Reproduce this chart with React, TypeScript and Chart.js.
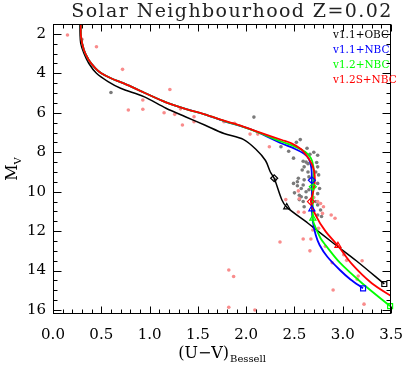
import React, { useEffect, useRef } from "react";
import { Chart, registerables } from "chart.js";
Chart.register(...registerables);

const xTickValues = [0, 0.5, 1.0, 1.5, 2.0, 2.5, 3.0, 3.5];
const yTickValues = [2, 4, 6, 8, 10, 12, 14, 16];

const titleText = "Solar Neighbourhood Z=0.02";
const seriesNames = ["v1.1+OBC", "v1.1+NBC", "v1.2+NBC", "v1.2S+NBC"];
const seriesColors = ["#000000", "#0000ff", "#00ff00", "#ff0000"];

const blackX = [0.277, 0.28, 0.287, 0.32, 0.37, 0.45, 0.57, 0.70, 0.94, 1.17, 1.37, 1.57, 1.77, 1.97, 2.10, 2.20, 2.25, 2.29, 2.37, 2.42, 2.64, 2.90, 3.14, 3.43];
const blackY = [1.5, 2.0, 2.48, 2.98, 3.49, 4.0, 4.42, 4.76, 5.18, 5.77, 6.2, 6.62, 7.05, 7.35, 7.85, 8.42, 9.0, 9.32, 10.42, 10.78, 11.6, 12.6, 13.5, 14.68];

const blueX = [0.287, 0.29, 0.32, 0.37, 0.44, 0.50, 0.60, 0.74, 0.94, 1.17, 1.37, 1.57, 1.77, 1.97, 2.10, 2.37, 2.50, 2.60, 2.65, 2.675, 2.68, 2.68, 2.68, 2.69, 2.72, 2.76, 2.84, 2.97, 3.08, 3.21];
const blueY = [1.5, 2.14, 2.82, 3.32, 3.75, 4.0, 4.25, 4.52, 4.97, 5.47, 5.8, 6.08, 6.42, 6.72, 6.95, 7.56, 7.82, 8.08, 8.35, 8.8, 9.42, 10.1, 10.88, 11.5, 12.2, 12.7, 13.3, 13.97, 14.45, 14.9];

const greenX = [0.287, 0.29, 0.32, 0.37, 0.44, 0.50, 0.60, 0.74, 0.94, 1.17, 1.37, 1.57, 1.77, 1.97, 2.10, 2.37, 2.50, 2.61, 2.67, 2.695, 2.70, 2.69, 2.69, 2.69, 2.70, 2.77, 2.82, 2.97, 3.20, 3.49];
const greenY = [1.5, 2.14, 2.82, 3.32, 3.75, 4.0, 4.25, 4.52, 4.97, 5.47, 5.8, 6.08, 6.41, 6.71, 6.94, 7.47, 7.7, 7.98, 8.3, 8.7, 9.2, 9.75, 10.5, 11.35, 11.6, 12.36, 12.7, 13.6, 14.64, 15.8];

const redX = [0.287, 0.29, 0.32, 0.37, 0.44, 0.50, 0.60, 0.74, 0.94, 1.17, 1.37, 1.57, 1.77, 1.97, 2.10, 2.37, 2.47, 2.57, 2.63, 2.68, 2.705, 2.71, 2.69, 2.67, 2.72, 2.82, 2.95, 3.10, 3.30, 3.52];
const redY = [1.5, 2.14, 2.82, 3.32, 3.75, 4.0, 4.25, 4.52, 4.97, 5.47, 5.8, 6.08, 6.4, 6.7, 6.93, 7.38, 7.55, 7.85, 8.2, 8.6, 9.0, 9.5, 10.1, 10.5, 11.2, 12.0, 12.74, 13.7, 14.64, 15.35];

const blackMarkX = [2.29, 2.42, 3.43];
const blackMarkY = [9.32, 10.78, 14.68];
const blueMarkX = [2.68, 2.68, 3.21];
const blueMarkY = [9.42, 10.88, 14.9];
const greenMarkX = [2.69, 2.69, 3.49];
const greenMarkY = [9.75, 11.35, 15.8];
const redMarkX = [2.67, 2.95];
const redMarkY = [10.5, 12.74];
const markShapes = ["rectRot", "triangle", "rect"];

const grayStarX = [0.60, 2.08, 2.36, 2.44, 2.49, 2.52, 2.56, 2.63, 2.70, 2.74, 2.59, 2.62, 2.64, 2.73, 2.74, 2.60, 2.75, 2.72, 2.64, 2.65, 2.60, 2.54, 2.53, 2.49, 2.30, 2.59, 2.57, 2.74, 2.76, 2.53, 2.50, 2.55, 2.55, 2.62, 2.65, 2.57, 2.62, 2.74, 2.72, 2.59, 2.74, 2.77, 2.60, 2.74, 2.78, 2.69, 2.66, 2.58];
const grayStarY = [4.97, 6.22, 7.72, 7.95, 8.3, 7.5, 7.36, 7.8, 8.0, 8.15, 8.46, 8.5, 8.58, 8.52, 8.74, 8.74, 9.15, 9.0, 9.0, 9.25, 9.4, 9.32, 9.5, 9.58, 9.4, 9.66, 9.84, 9.58, 9.84, 9.7, 10.06, 10.18, 10.4, 10.0, 9.9, 10.26, 10.3, 10.1, 10.5, 10.5, 10.67, 10.93, 10.76, 11.18, 11.26, 11.0, 8.1, 8.9];

const pinkStarX = [0.15, 0.30, 0.45, 0.72, 1.21, 0.93, 0.78, 0.93, 1.15, 1.26, 1.32, 1.46, 1.46, 1.34, 1.77, 1.88, 2.04, 2.12, 2.24, 2.41, 2.54, 2.55, 2.54, 2.60, 2.35, 2.59, 2.66, 2.67, 2.79, 2.88, 2.92, 2.69, 2.70, 2.75, 2.82, 2.89, 3.20, 3.16, 3.15, 2.90, 3.22, 2.09, 1.82, 3.04, 3.01, 2.77, 2.80, 2.74, 1.82, 1.87, 2.70];
const pinkStarY = [2.06, 2.27, 2.65, 3.8, 4.82, 5.35, 5.86, 5.82, 6.0, 6.08, 5.8, 6.2, 6.45, 6.62, 6.45, 6.53, 7.08, 7.08, 7.72, 10.4, 9.96, 10.36, 11.03, 11.04, 12.55, 12.4, 13.0, 12.4, 11.1, 11.18, 11.35, 11.94, 11.77, 11.85, 12.77, 13.6, 13.5, 14.27, 14.44, 14.98, 15.7, 16.0, 15.86, 13.48, 13.2, 10.6, 10.76, 10.5, 13.97, 14.3, 10.3];

const SERIF = "'DejaVu Serif', serif";

const toPts = (xs: number[], ys: number[]) => xs.map((x, i) => ({ x, y: ys[i] }));

const framePlugin = {
  id: "frameTicks",
  afterDatasetsDraw(chart: any) {
    const { ctx, chartArea: a, scales } = chart;
    const xs = scales.x;
    const ys = scales.y;
    const L = Math.round(a.left) + 0.5;
    const R = Math.round(a.right) - 0.5;
    const T = Math.round(a.top) + 0.5;
    const B = Math.round(a.bottom) - 0.5;
    ctx.save();
    ctx.strokeStyle = "#000";
    ctx.lineWidth = 1;
    ctx.strokeRect(L, T, R - L, B - T);
    ctx.beginPath();
    for (let i = 0; i <= 35; i++) {
      const v = i / 10;
      const px = Math.round(xs.getPixelForValue(v)) + 0.5;
      const len = i % 5 === 0 ? 7 : 4;
      ctx.moveTo(px, B);
      ctx.lineTo(px, B - len);
      ctx.moveTo(px, T);
      ctx.lineTo(px, T + len);
    }
    for (let v = 2; v <= 16; v += 0.5) {
      const py = Math.round(ys.getPixelForValue(v)) + 0.5;
      const len = v % 2 === 0 ? 8 : 4;
      ctx.moveTo(L, py);
      ctx.lineTo(L + len, py);
      ctx.moveTo(R, py);
      ctx.lineTo(R - len, py);
    }
    ctx.stroke();
    ctx.restore();
  },
};

const textPlugin = {
  id: "texts",
  afterDraw(chart: any) {
    const { ctx, chartArea: a } = chart;
    ctx.save();
    ctx.fillStyle = "#222";
    ctx.font = `19px ${SERIF}`;
    ctx.textAlign = "left";
    ctx.textBaseline = "alphabetic";
    (ctx as any).letterSpacing = "1.4px";
    const tw = ctx.measureText(titleText).width;
    ctx.fillText(titleText, 232 - tw / 2, 17);
    (ctx as any).letterSpacing = "0px";
    ctx.font = `10.5px ${SERIF}`;
    ctx.textAlign = "left";
    ctx.textBaseline = "middle";
    seriesNames.forEach((n, i) => {
      ctx.fillStyle = seriesColors[i];
      ctx.fillText(n, 333, 35 + i * 15);
    });
    ctx.fillStyle = "#000";
    const cx = (a.left + a.right) / 2;
    ctx.textBaseline = "alphabetic";
    const main = "(U\u2212V)";
    ctx.font = `16px ${SERIF}`;
    const w1 = ctx.measureText(main).width;
    ctx.font = `10px ${SERIF}`;
    const w2 = ctx.measureText("Bessell").width;
    const start = cx - (w1 + w2 + 1) / 2;
    ctx.textAlign = "left";
    ctx.font = `16px ${SERIF}`;
    ctx.fillText(main, start, 358);
    ctx.font = `10px ${SERIF}`;
    ctx.fillText("Bessell", start + w1 + 1, 362);
    ctx.translate(17, (a.top + a.bottom) / 2);
    ctx.rotate(-Math.PI / 2);
    ctx.font = `16px ${SERIF}`;
    const m1 = ctx.measureText("M").width;
    ctx.font = `10px ${SERIF}`;
    const m2 = ctx.measureText("V").width;
    const s = -(m1 + m2) / 2;
    ctx.font = `16px ${SERIF}`;
    ctx.fillText("M", s, 0);
    ctx.font = `10px ${SERIF}`;
    ctx.fillText("V", s + m1, 4);
    ctx.restore();
  },
};

export default function App() {
  const ref = useRef<HTMLCanvasElement | null>(null);
  useEffect(() => {
    if (!ref.current) return;
    const lineDs = (label: string, xs: number[], ys: number[], color: string, order: number, width: number) => ({
      label,
      data: toPts(xs, ys),
      showLine: true,
      borderColor: color,
      backgroundColor: color,
      borderWidth: width,
      pointRadius: 0,
      tension: 0.3,
      order,
    });
    const markDs = (xs: number[], ys: number[], color: string) => ({
      data: toPts(xs, ys),
      showLine: false,
      borderColor: color,
      backgroundColor: "rgba(0,0,0,0)",
      borderWidth: 1.2,
      pointRadius: 3.5,
      pointStyle: xs.map((_, i) => markShapes[i]),
      clip: false,
      order: 0,
    });
    const starDs = (xs: number[], ys: number[], color: string, order: number) => ({
      data: toPts(xs, ys),
      showLine: false,
      borderWidth: 0,
      backgroundColor: color,
      pointRadius: 1.8,
      order,
    });
    const chart = new Chart(ref.current, {
      type: "scatter",
      data: {
        datasets: [
          starDs(grayStarX, grayStarY, "#7a7a7a", 10),
          starDs(pinkStarX, pinkStarY, "#f98c8c", 9),
          lineDs(seriesNames[0], blackX, blackY, seriesColors[0], 5, 1.5),
          lineDs(seriesNames[1], blueX, blueY, seriesColors[1], 4, 1.8),
          lineDs(seriesNames[2], greenX, greenY, seriesColors[2], 3, 1.8),
          lineDs(seriesNames[3], redX, redY, seriesColors[3], 2, 1.8),
          markDs(blackMarkX, blackMarkY, seriesColors[0]),
          markDs(blueMarkX, blueMarkY, seriesColors[1]),
          markDs(greenMarkX, greenMarkY, seriesColors[2]),
          markDs(redMarkX, redMarkY, seriesColors[3]),
        ] as any,
      },
      options: {
        animation: false,
        responsive: false,
        devicePixelRatio: 1,
        layout: { padding: { top: 24, right: 12, left: 0, bottom: 0 } },
        plugins: { legend: { display: false }, tooltip: { enabled: false }, title: { display: false } },
        scales: {
          x: {
            type: "linear",
            min: 0,
            max: 3.5,
            grid: { display: false, drawTicks: false },
            border: { display: false },
            afterBuildTicks: (s: any) => { s.ticks = xTickValues.map((v) => ({ value: v })); },
            afterFit: (s: any) => { s.height = 51; },
            ticks: {
              color: "#000",
              padding: 12,
              maxRotation: 0,
              autoSkip: false,
              font: { family: SERIF, size: 15 },
              callback: (v: any) => Number(v).toFixed(1),
            },
          },
          y: {
            type: "linear",
            reverse: true,
            min: 1.5,
            max: 16.2,
            grid: { display: false, drawTicks: false },
            border: { display: false },
            afterBuildTicks: (s: any) => { s.ticks = yTickValues.map((v) => ({ value: v })); },
            afterFit: (s: any) => { s.width = 53; },
            ticks: {
              color: "#000",
              padding: 7,
              autoSkip: false,
              font: { family: SERIF, size: 15 },
              callback: (v: any) => String(v),
            },
          },
        },
      },
      plugins: [framePlugin, textPlugin],
    } as any);
    return () => chart.destroy();
  }, []);
  return (
    <div style={{ position: "absolute", left: 0, top: 0, width: 415, height: 365, background: "#fff" }}>
      <canvas ref={ref} width={415} height={365} style={{ width: 415, height: 365 }} />
    </div>
  );
}
